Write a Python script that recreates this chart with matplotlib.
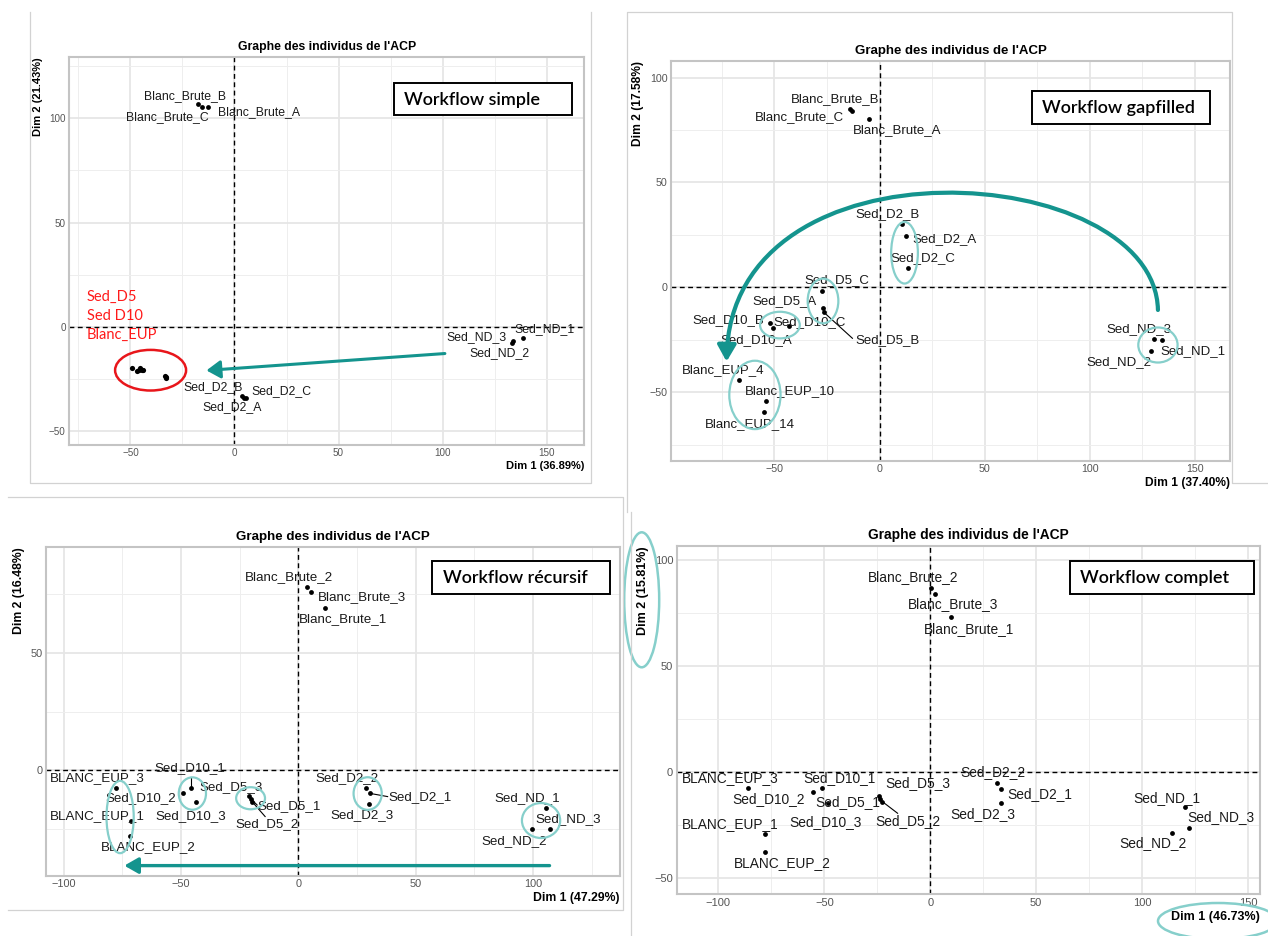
import matplotlib
matplotlib.use('Agg')
import matplotlib.pyplot as plt
from matplotlib.patches import Ellipse, Rectangle, FancyArrowPatch, ArrowStyle
from matplotlib.path import Path

plt.rcParams['font.family'] = ['Liberation Sans', 'DejaVu Sans']

TITLE = "Graphe des individus de l'ACP"
TEAL = '#14948e'
LTEAL = '#86cfcb'

# ---------------- Panel 1 : Workflow simple ----------------
p1_names = ['Blanc_Brute_B', 'Blanc_Brute_C', 'Blanc_Brute_A', 'Sed_ND_3', 'Sed_ND_1',
            'Sed_ND_2', 'Sed_D2_B', 'Sed_D2_C', 'Sed_D2_A']
p1_x = [-17.7, -15.4, -12.9, 133.3, 138.5, 133.9, 3.6, 5.3, 4.6]
p1_y = [106.9, 105.6, 105.3, -8.0, -5.3, -6.7, -33.3, -34.0, -34.4]
p1_lx = [-23.6, -32.1, 11.6, 116.2, 148.7, 127.3, -10.3, 22.4, -1.3]
p1_ly = [110.9, 100.5, 102.9, -4.8, -1.3, -12.8, -28.8, -30.7, -38.7]
p1_hidden_x = [-49.4, -46.6, -46.0, -45.2, -44.6, -43.8, -33.4, -32.8, -33.0]
p1_hidden_y = [-20.0, -21.4, -20.8, -19.8, -20.6, -20.9, -23.7, -24.2, -24.4]
p1_red_text = ['Sed_D5', 'Sed D10', 'Blanc_EUP']
p1_xlab = 'Dim 1 (36.89%)'
p1_ylab = 'Dim 2 (21.43%)'

# ---------------- Panel 2 : Workflow gapfilled ----------------
p2_names = ['Blanc_Brute_B', 'Blanc_Brute_C', 'Blanc_Brute_A', 'Sed_D2_B', 'Sed_D2_A', 'Sed_D2_C',
            'Sed_D5_C', 'Sed_D5_A', 'Sed_D5_B', 'Sed_D10_B', 'Sed_D10_A', 'Sed_D10_C',
            'Sed_ND_3', 'Sed_ND_1', 'Sed_ND_2', 'Blanc_EUP_4', 'Blanc_EUP_10', 'Blanc_EUP_14']
p2_x = [-14.2, -12.9, -5.1, 10.9, 12.7, 13.7, -27.3, -27.1, -26.5, -51.9, -50.5, -43.1,
        130.4, 134.5, 129.4, -67.1, -53.9, -54.8]
p2_y = [85.0, 84.2, 80.1, 30.0, 24.5, 9.4, -1.6, -10.0, -11.9, -17.2, -19.2, -18.3,
        -24.5, -25.1, -30.5, -44.3, -54.0, -59.6]
p2_lx = [-21.3, -38.3, 8.2, 3.9, 30.8, 20.7, -20.3, -45.3, 3.7, -72.0, -58.7, -33.2,
         123.3, 149.1, 114.0, -74.2, -42.9, -61.7]
p2_ly = [89.8, 81.1, 75.0, 35.0, 22.9, 14.1, 3.3, -6.7, -25.1, -15.6, -25.1, -16.5,
         -19.9, -30.2, -35.6, -39.6, -49.3, -65.0]
p2_segs = {'Sed_D5_B': (-12.9, -24.3)}
p2_xlab = 'Dim 1 (37.40%)'
p2_ylab = 'Dim 2 (17.58%)'

# ---------------- Panel 3 : Workflow recursif ----------------
p3_names = ['Blanc_Brute_2', 'Blanc_Brute_3', 'Blanc_Brute_1', 'BLANC_EUP_3', 'BLANC_EUP_1',
            'BLANC_EUP_2', 'Sed_D10_1', 'Sed_D10_2', 'Sed_D10_3', 'Sed_D5_3', 'Sed_D5_1',
            'Sed_D5_2', 'Sed_D2_2', 'Sed_D2_1', 'Sed_D2_3', 'Sed_ND_1', 'Sed_ND_3', 'Sed_ND_2']
p3_x = [3.8, 5.5, 11.5, -77.9, -71.4, -71.6, -45.9, -49.2, -43.7, -21.1, -20.2, -19.7,
        28.6, 30.3, 30.0, 105.7, 107.4, 99.7]
p3_y = [78.0, 76.1, 69.3, -7.4, -21.6, -28.0, -7.7, -9.7, -13.4, -10.9, -12.2, -13.4,
        -7.4, -9.8, -14.3, -15.9, -25.0, -25.1]
p3_lx = [-3.9, 26.9, 19.0, -85.6, -85.6, -63.9, -46.1, -67.0, -45.7, -28.8, -3.9, -13.2,
         20.9, 51.9, 27.2, 97.6, 114.9, 91.8]
p3_ly = [82.2, 73.6, 64.5, -3.1, -19.7, -32.5, 0.9, -11.9, -19.7, -7.2, -15.1, -23.0,
         -3.1, -11.2, -19.0, -11.9, -20.9, -30.0]
p3_segs = {'Sed_D10_1': (-45.9, -2.7), 'Sed_D5_1': (-17.6, -14.8),
           'Sed_D5_2': (-14.2, -19.7), 'Sed_D2_1': (38.0, -11.2)}
p3_xlab = 'Dim 1 (47.29%)'
p3_ylab = 'Dim 2 (16.48%)'

# ---------------- Panel 4 : Workflow complet ----------------
p4_names = ['Blanc_Brute_2', 'Blanc_Brute_3', 'Blanc_Brute_1', 'BLANC_EUP_3', 'BLANC_EUP_1',
            'BLANC_EUP_2', 'Sed_D10_1', 'Sed_D10_2', 'Sed_D10_3', 'Sed_D5_3', 'Sed_D5_1',
            'Sed_D5_2', 'Sed_D2_2', 'Sed_D2_1', 'Sed_D2_3', 'Sed_ND_1', 'Sed_ND_3', 'Sed_ND_2']
p4_x = [0.4, 2.3, 9.9, -86.2, -78.0, -78.0, -51.3, -55.4, -48.4, -24.0, -23.6, -22.6,
        31.4, 33.3, 33.3, 120.3, 122.3, 113.9]
p4_y = [86.8, 84.2, 73.1, -7.7, -29.3, -37.9, -7.7, -9.3, -14.8, -11.3, -12.8, -14.0,
        -5.4, -8.2, -14.8, -16.7, -26.6, -28.7]
p4_lx = [-8.0, 10.9, 18.3, -94.4, -94.6, -69.6, -42.9, -76.1, -49.5, -5.9, -38.8, -10.5,
         29.6, 51.5, 25.0, 111.5, 137.3, 105.3]
p4_ly = [92.0, 79.4, 67.5, -2.7, -24.7, -43.1, -2.7, -12.8, -23.5, -5.4, -14.3, -23.1,
         -0.2, -10.4, -19.8, -12.1, -21.4, -33.7]
p4_segs = {'Sed_D5_2': (-15.4, -19.5)}
p4_xlab = 'Dim 1 (46.73%)'
p4_ylab = 'Dim 2 (15.81%)'

W, H = 1268, 936
fig = plt.figure(figsize=(W / 100, H / 100), dpi=100)
fig.patch.set_facecolor('white')


def rect_px(x0, y0, x1, y1):
    return [x0 / W, 1 - y1 / H, (x1 - x0) / W, (y1 - y0) / H]


def fmt(v):
    return ('\u2212' + str(-v)) if v < 0 else str(v)


def panel(box, xlim, ylim, xt, yt, xm, ym, names, xs, ys, lx, ly, xlab, ylab, sc, segs=None):
    ax = fig.add_axes(rect_px(*box))
    ax.set_xlim(*xlim)
    ax.set_ylim(*ylim)
    ax.set_xticks(xt)
    ax.set_xticklabels([fmt(v) for v in xt])
    ax.set_yticks(yt)
    ax.set_yticklabels([fmt(v) for v in yt])
    ax.set_xticks(xm, minor=True)
    ax.set_yticks(ym, minor=True)
    ax.grid(which='major', color='#e6e6e6', lw=1.3)
    ax.grid(which='minor', color='#eeeeee', lw=0.7)
    ax.set_axisbelow(True)
    ax.tick_params(which='both', length=0, labelsize=7.1 * sc, labelcolor='#555555', pad=2.5)
    for s in ax.spines.values():
        s.set_color('#c4c4c4')
        s.set_linewidth(1.5)
    ax.axhline(0, color='black', lw=1.0, ls=(0, (3.5, 2.5)), zorder=1)
    ax.axvline(0, color='black', lw=1.0, ls=(0, (3.5, 2.5)), zorder=1)
    ax.set_title(TITLE, fontsize=8.8 * sc, fontweight='bold', pad=5)
    ax.set_xlabel(xlab, loc='right', fontsize=8 * sc, fontweight='bold', labelpad=2)
    ax.set_ylabel(ylab, loc='top', fontsize=8 * sc, fontweight='bold', labelpad=4)
    if segs:
        for n, (ex, ey) in segs.items():
            i = names.index(n)
            ax.plot([xs[i], ex], [ys[i], ey], color='black', lw=0.8, zorder=2)
    ax.scatter(xs, ys, s=12, color='black', zorder=3, linewidths=0)
    for n, x, y in zip(names, lx, ly):
        ax.text(x, y, n, fontsize=8.8 * sc, ha='center', va='center', color='#1a1a1a', zorder=4)
    return ax


def ell(ax, cx, cy, w, h, color=LTEAL, lw=1.6, ang=0):
    ax.add_patch(Ellipse((cx, cy), w, h, angle=ang, fill=False, edgecolor=color, lw=lw, zorder=5))


# ---- Panel 1
ax1 = panel((69.2, 57.3, 584.4, 445.0), (-79.4, 168.1), (-56.8, 129.3),
            [-50, 0, 50, 100, 150], [-50, 0, 50, 100], [-75, -25, 25, 75, 125],
            [-25, 25, 75, 125], p1_names, p1_x, p1_y, p1_lx, p1_ly, p1_xlab, p1_ylab, 1.0)
ax1.scatter(p1_hidden_x, p1_hidden_y, s=14, color='black', zorder=3, linewidths=0)
ell(ax1, -40.3, -20.9, 34.1, 19.5, color='#e8161b', lw=1.8)
for t, yy in zip(p1_red_text, [14.1, 5.3, -4.0]):
    ax1.text(-71.0, yy, t, color='#ff1a1a', fontsize=10.5, family=['Lato', 'DejaVu Sans'],
             ha='left', va='center', zorder=6)
ax1.add_patch(FancyArrowPatch((102.4, -12.8), (-14.8, -21.1),
                              arrowstyle=ArrowStyle('-|>', head_length=0.7, head_width=0.45),
                              mutation_scale=12, color=TEAL, lw=2.2, zorder=6))

# ---- Panel 2
ax2 = panel((671.3, 61.0, 1229.8, 461.0), (-99.1, 166.7), (-82.8, 107.9),
            [-50, 0, 50, 100, 150], [-50, 0, 50, 100], [-75, -25, 25, 75, 125],
            [-75, -25, 25, 75], p2_names, p2_x, p2_y, p2_lx, p2_ly, p2_xlab, p2_ylab, 1.08,
            p2_segs)
ell(ax2, 11.9, 16.5, 12.7, 29.4)
ell(ax2, -26.9, -6.5, 14.6, 21.3)
ell(ax2, -47.4, -18.0, 18.9, 12.7)
ell(ax2, 132.5, -27.5, 18.7, 16.7)
ell(ax2, -59.3, -51.3, 24.4, 32.6)
arc = Path([(132.5, -10.8), (131.0, 60.0), (-71.0, 75.0), (-72.8, -35.4)],
           [Path.MOVETO, Path.CURVE4, Path.CURVE4, Path.CURVE4])
ax2.add_patch(FancyArrowPatch(path=arc, arrowstyle=ArrowStyle('-|>', head_length=0.7, head_width=0.4),
                              mutation_scale=14, color=TEAL, lw=3.0, zorder=6))

# ---- Panel 3
ax3 = panel((46.2, 547.3, 619.9, 875.7), (-107.5, 137.0), (-44.9, 95.0),
            [-100, -50, 0, 50, 100], [0, 50], [-75, -25, 25, 75, 125],
            [-25, 25, 75], p3_names, p3_x, p3_y, p3_lx, p3_ly, p3_xlab, p3_ylab, 1.1,
            p3_segs)
ell(ax3, -76.0, -19.9, 11.6, 30.8)
ell(ax3, -45.2, -9.9, 11.6, 13.8)
ell(ax3, -20.4, -11.9, 12.3, 9.4)
ell(ax3, 29.5, -9.9, 12.0, 13.9)
ell(ax3, 103.4, -21.4, 16.3, 14.9)
ax3.add_patch(FancyArrowPatch((108.2, -40.6), (-75.4, -40.6),
                              arrowstyle=ArrowStyle('-|>', head_length=0.7, head_width=0.4),
                              mutation_scale=12, color=TEAL, lw=2.4, zorder=6))

# ---- Panel 4
ax4 = panel((676.6, 546.0, 1259.7, 894.3), (-119.7, 155.5), (-57.8, 106.8),
            [-100, -50, 0, 50, 100, 150], [-50, 0, 50, 100], [-75, -25, 25, 75, 125],
            [-25, 25, 75], p4_names, p4_x, p4_y, p4_lx, p4_ly, p4_xlab, p4_ylab, 1.13,
            p4_segs)

# ---- Overlay (pixel coordinates)
ov = fig.add_axes([0, 0, 1, 1], zorder=20)
ov.set_xlim(0, W)
ov.set_ylim(H, 0)
ov.axis('off')
ov.patch.set_alpha(0)

bc = '#d2d2d2'
ov.plot([30.4, 30.4, 591, 591], [12.3, 482.7, 482.7, 12.3], color=bc, lw=0.9)
ov.plot([627.3, 627.3, 1232.2, 1232.2, 1268], [511.7, 12.3, 12.3, 482.7, 482.7], color=bc, lw=0.9)
ov.plot([8, 623.3, 623.3, 8], [497.3, 497.3, 910, 910], color=bc, lw=0.9)
ov.plot([631, 631], [512, 936], color=bc, lw=0.9)

boxes = [((394.2, 82.7, 571.8, 115.3), 404.0, 'Workflow simple'),
         ((1032.1, 90.7, 1210.1, 124.0), 1042.4, 'Workflow gapfilled'),
         ((432.3, 561.0, 610.3, 594.0), 442.7, 'Workflow récursif'),
         ((1069.6, 561.0, 1254.3, 594.0), 1079.9, 'Workflow complet')]
for (x0, y0, x1, y1), tx, txt in boxes:
    ov.add_patch(Rectangle((x0, y0), x1 - x0, y1 - y0, fill=True, facecolor='white',
                           edgecolor='black', lw=1.4))
    ov.text(tx, (y0 + y1) / 2 + 0.5, txt, fontsize=13, family=['Lato', 'DejaVu Sans'],
            fontweight='semibold', ha='left', va='center', color='black')

ov.add_patch(Ellipse((641.7, 599.8), 35, 135, fill=False, edgecolor=LTEAL, lw=1.8))
ov.add_patch(Ellipse((1218, 921), 120, 36, fill=False, edgecolor=LTEAL, lw=1.8))

fig.savefig('out.png', dpi=100, facecolor='white')
